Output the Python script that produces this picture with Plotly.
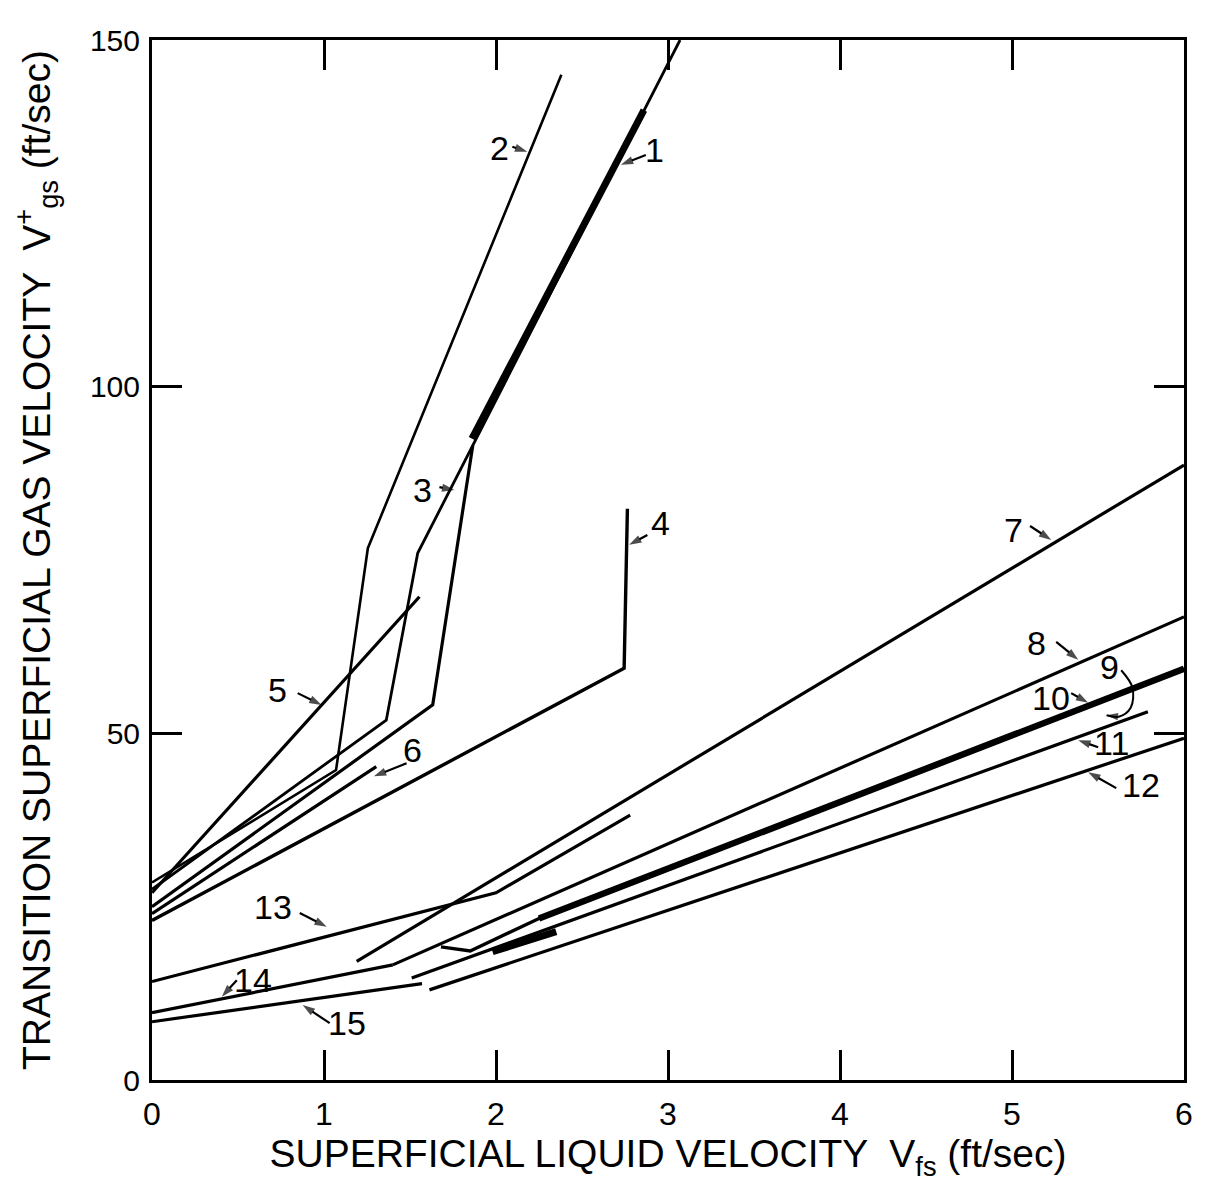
import plotly.graph_objects as go

# ---- transition curves (superficial liquid velocity, transition gas velocity) ----
c1_x = [1.86, 2.86]
c1_y = [92.5, 139.9]

c2_x = [0.0, 1.07, 1.255, 2.38]
c2_y = [28.5, 44.7, 76.7, 145.0]

c3a_x = [0.0, 1.362, 1.545, 1.865, 3.07]
c3a_y = [27.5, 51.9, 76.0, 91.5, 150.0]

c3b_x = [0.0, 1.632, 1.865]
c3b_y = [25.0, 54.1, 91.5]

c4_x = [0.0, 2.745, 2.764]
c4_y = [23.0, 59.4, 82.4]

c5_x = [0.0, 1.555]
c5_y = [27.0, 69.7]

c6_x = [0.0, 1.304]
c6_y = [24.0, 45.2]

c7_x = [1.19, 6.0]
c7_y = [17.1, 88.7]

c8_x = [1.40, 6.0]
c8_y = [16.6, 66.8]

c9_x = [2.25, 6.0]
c9_y = [23.3, 59.3]

c10_x = [1.68, 1.85, 2.25, 6.0]
c10_y = [19.2, 18.6, 23.3, 59.3]

c11_x = [1.51, 5.79]
c11_y = [14.7, 53.1]
c11_heavy_x = [1.98, 2.35]
c11_heavy_y = [18.5, 21.4]

c12_x = [1.613, 6.0]
c12_y = [13.0, 49.3]

c13_x = [0.0, 2.0, 2.78]
c13_y = [14.2, 27.0, 38.2]

c14_x = [0.0, 1.40]
c14_y = [9.7, 16.6]

c15_x = [0.0, 1.57]
c15_y = [8.4, 13.9]

# curve -> (x, y, stroke width)
curves = [
    (c2_x, c2_y, 2.6),
    (c3a_x, c3a_y, 2.8),
    (c3b_x, c3b_y, 3.2),
    (c1_x, c1_y, 7.0),
    (c4_x, c4_y, 3.4),
    (c5_x, c5_y, 3.2),
    (c6_x, c6_y, 3.2),
    (c7_x, c7_y, 3.2),
    (c8_x, c8_y, 3.2),
    (c10_x, c10_y, 3.4),
    (c9_x, c9_y, 6.5),
    (c11_x, c11_y, 3.2),
    (c11_heavy_x, c11_heavy_y, 7.0),
    (c12_x, c12_y, 3.2),
    (c13_x, c13_y, 3.2),
    (c14_x, c14_y, 3.2),
    (c15_x, c15_y, 3.2),
]

# ---- curve labels: text position, leader tail, leader tip ----
label_text = ["1", "2", "3", "4", "5", "6", "7", "8", "10", "11", "12", "13", "14", "15"]
label_x = [2.92, 2.02, 1.573, 2.958, 0.731, 1.515, 5.008, 5.141, 5.228, 5.577, 5.751, 0.702, 0.586, 1.132]
label_y = [134.1, 134.4, 85.1, 80.3, 56.3, 47.6, 79.3, 63.0, 55.1, 48.6, 42.5, 25.0, 14.4, 8.2]
tail_x = [2.871, 2.095, 1.671, 2.88, 0.847, 1.48, 5.105, 5.257, 5.344, 5.501, 5.606, 0.859, 0.493, 1.033]
tail_y = [133.4, 134.6, 85.5, 78.6, 55.8, 45.7, 79.9, 63.2, 55.8, 48.0, 42.1, 24.1, 14.4, 8.2]
tip_x = [2.726, 2.182, 1.758, 2.774, 0.986, 1.29, 5.228, 5.385, 5.443, 5.385, 5.443, 1.016, 0.406, 0.876]
tip_y = [132.0, 133.9, 85.1, 77.2, 54.1, 43.8, 77.9, 60.6, 54.4, 49.0, 44.4, 22.1, 12.0, 10.8]

# label 9 uses a curved bracket leader
nine_x, nine_y = 5.569, 59.6
nine_lead_x = [5.635, 5.70, 5.69, 5.62, 5.55]
nine_lead_y = [59.1, 56.6, 53.7, 52.4, 52.6]

FONT = "Liberation Sans"

fig = go.Figure()
for xs, ys, w in curves:
    fig.add_trace(go.Scatter(x=xs, y=ys, mode="lines",
                             line=dict(color="black", width=w),
                             hoverinfo="skip", showlegend=False))

# leaders with arrowheads at the curve end
for ax_, ay_, x_, y_ in zip(tail_x, tail_y, tip_x, tip_y):
    fig.add_trace(go.Scatter(
        x=[ax_, x_], y=[ay_, y_], mode="lines+markers",
        line=dict(color="black", width=2.2),
        marker=dict(symbol="arrow", size=[0, 13], angleref="previous",
                    color="black", line=dict(width=0)),
        hoverinfo="skip", showlegend=False))

fig.add_trace(go.Scatter(
    x=nine_lead_x, y=nine_lead_y, mode="lines+markers",
    line=dict(color="black", width=2, shape="spline"),
    marker=dict(symbol="arrow", size=[0, 0, 0, 0, 12], angleref="previous",
                color="black", line=dict(width=0)),
    hoverinfo="skip", showlegend=False))

annotations = []
for t, lx, ly in zip(label_text + ["9"], label_x + [nine_x], label_y + [nine_y]):
    annotations.append(dict(x=lx, y=ly, xref="x", yref="y", text=t, showarrow=False,
                            font=dict(family=FONT, size=34, color="black"),
                            xanchor="center", yanchor="middle"))

fig.update_layout(
    width=1205, height=1192,
    margin=dict(l=152, r=19, t=40, b=112),
    paper_bgcolor="white", plot_bgcolor="white",
    showlegend=False,
    annotations=annotations,
    font=dict(family=FONT, color="black"),
)
fig.update_xaxes(
    range=[0, 6], tickvals=[0, 1, 2, 3, 4, 5, 6],
    ticks="inside", ticklen=30, tickwidth=2.5, tickcolor="black",
    showline=True, linewidth=3, linecolor="black", mirror="ticks",
    showgrid=False, zeroline=False,
    tickfont=dict(family=FONT, size=32, color="black"),
    ticklabelstandoff=4,
    title=dict(text="SUPERFICIAL LIQUID VELOCITY  V<sub>fs</sub> (ft/sec)",
               font=dict(family=FONT, size=39, color="black"), standoff=8),
)
fig.update_yaxes(
    range=[0, 150], tickvals=[0, 50, 100, 150],
    ticks="inside", ticklen=30, tickwidth=2.5, tickcolor="black",
    showline=True, linewidth=3, linecolor="black", mirror="ticks",
    showgrid=False, zeroline=False,
    tickfont=dict(family=FONT, size=30, color="black"),
    ticklabelstandoff=3,
    title=dict(text="TRANSITION SUPERFICIAL GAS VELOCITY  V<sup>+</sup><sub>gs</sub> (ft/sec)",
               font=dict(family=FONT, size=39, color="black"), standoff=28),
)

fig.write_html("out.html")
